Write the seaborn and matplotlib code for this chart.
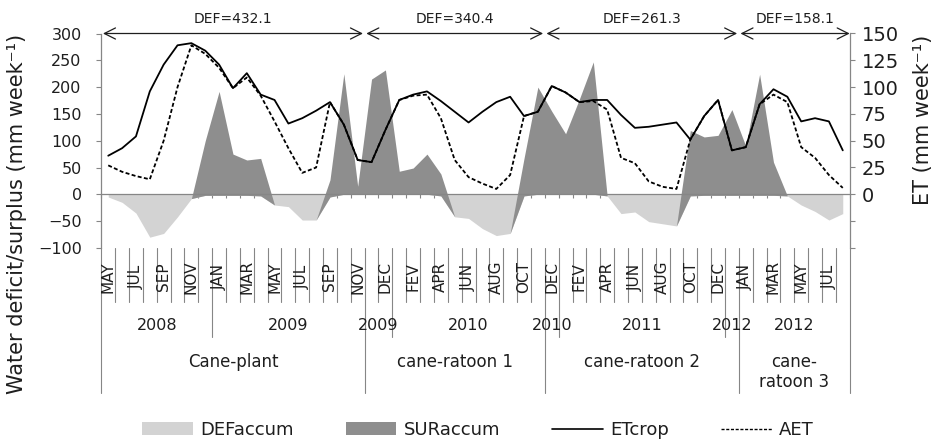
import numpy as np
import matplotlib
matplotlib.use("Agg")
import matplotlib.pyplot as plt
import matplotlib.transforms as mtransforms
from matplotlib.patches import Patch
from matplotlib.lines import Line2D
from matplotlib.ticker import FuncFormatter
import seaborn as sns

# ---- data -----------------------------------------------------------------
months = ["MAY", "JUN", "JUL", "AUG", "SEP", "OCT", "NOV", "DEC",
          "JAN", "FEV", "MAR", "APR", "MAY", "JUN", "JUL", "AUG", "SEP", "OCT", "NOV",
          "NOV", "DEC",
          "JAN", "FEV", "MAR", "APR", "MAY", "JUN", "JUL", "AUG", "SEP", "OCT", "NOV",
          "DEC",
          "JAN", "FEV", "MAR", "APR", "MAY", "JUN", "JUL", "AUG", "SEP", "OCT", "NOV", "DEC",
          "JAN",
          "JAN", "FEV", "MAR", "APR", "MAY", "JUN", "JUL", "AUG"]

year_groups = [("2008", 8), ("2009", 11), ("2009", 2), ("2010", 11),
               ("2010", 1), ("2011", 12), ("2012", 1), ("2012", 8)]
phase_groups = [("Cane-plant", 19), ("cane-ratoon 1", 13),
                ("cane-ratoon 2", 14), ("cane-\nratoon 3", 8)]
def_totals = [432.1, 340.4, 261.3, 158.1]

# accumulated water deficit (mm week-1, negative) and surplus (stacked on top)
def_accum = [-5, -15, -35, -80, -73, -42, -8, -2, -2, -2, -2, -3, -20, -23, -48, -48,
             -5, 0, 0, 0, 0, 0, 0, 0, -3, -42, -45, -64, -77, -73, -3, 0,
             0, 0, 0, 0, -3, -36, -33, -51, -55, -59, -3, -2, -2, -2, -2, -2,
             -2, -3, -20, -32, -48, -36]
sur_accum = [0, 0, 0, 0, 0, 0, 0, 102, 194, 77, 66, 70, 0, 0, 0, 0,
             32, 225, 15, 215, 232, 43, 49, 75, 41, 0, 0, 0, 0, 0, 70, 200,
             155, 113, 178, 247, 0, 0, 0, 0, 0, 0, 122, 109, 112, 160, 92, 226,
             62, 0, 0, 0, 0, 0]

# crop evapotranspiration and actual evapotranspiration (mm week-1)
et_crop = [36, 43, 54, 96, 121, 139, 141, 134, 121, 99, 113, 93, 88, 66, 71, 78,
           86, 65, 32, 30, 60, 88, 93, 96, 87, 77, 67, 77, 86, 91, 73, 77,
           101, 95, 86, 88, 88, 74, 62, 63, 65, 67, 51, 73, 88, 41, 44, 84,
           98, 91, 68, 71, 68, 41]
aet = [27, 21, 17, 14, 50, 100, 139, 131, 118, 99, 109, 92, 68, 43, 20, 25,
       86, 65, 32, 30, 60, 88, 92, 93, 71, 32, 16, 10, 5, 18, 73, 77,
       101, 95, 86, 87, 79, 34, 29, 12, 7, 5, 51, 73, 88, 41, 44, 84,
       93, 86, 44, 34, 18, 6]

# ---- style ----------------------------------------------------------------
sns.set_theme(style="white")
plt.rcParams["font.family"] = ["DejaVu Sans"]

LIGHT = "#d3d3d3"
DARK = "#8e8e8e"
GRID = "#868686"
INK = "#1e1e1e"

W, H = 938, 442
fig = plt.figure(figsize=(W / 100, H / 100), dpi=100)

px_left, px_right = 101.3, 849.7
px_top, px_bottom = 33.5, 247.9
ax = fig.add_axes([px_left / W, (H - px_bottom) / H,
                   (px_right - px_left) / W, (px_bottom - px_top) / H])
ax_h = px_bottom - px_top

n = len(months)
x = np.arange(n)
def_arr = np.array(def_accum, dtype=float)
top_arr = def_arr + np.array(sur_accum, dtype=float)

# stacked areas: deficit from zero, surplus stacked on the deficit
ax.fill_between(x, 0, def_arr, color=LIGHT, lw=0, zorder=1)
ax.fill_between(x, def_arr, top_arr, color=DARK, lw=0, zorder=1.1)

ax.set_xlim(-0.5, n - 0.5)
ax.set_ylim(-100, 300)

# ET lines on the secondary axis
ax2 = ax.twinx()
sns.lineplot(x=x, y=et_crop, ax=ax2, color="black", lw=1.3, legend=False)
sns.lineplot(x=x, y=aet, ax=ax2, color="black", lw=1.3,
             linestyle=(0, (2.2, 1.3)), legend=False)
ax2.set_ylim(-50, 150)
ax2.set_xlabel("")
ax2.set_ylabel("")

# spines
for s in ["top", "right"]:
    ax.spines[s].set_visible(False)
ax.spines["left"].set_color(GRID)
ax.spines["bottom"].set_color(GRID)
ax.spines["bottom"].set_position(("data", 0))
for s in ["top", "left", "bottom"]:
    ax2.spines[s].set_visible(False)
ax2.spines["right"].set_color(GRID)
for sp in list(ax.spines.values()) + list(ax2.spines.values()):
    sp.set_linewidth(0.9)

# ticks
ax.set_xticks(np.arange(n + 1) - 0.5)
ax.tick_params(axis="x", direction="out", length=3, width=0.8, color=GRID,
               labelbottom=False, bottom=True)
ax.set_yticks(np.arange(-100, 301, 50))
ax.tick_params(axis="y", direction="out", length=3.6, width=0.8, color=GRID,
               labelsize=11.5, labelcolor=INK, pad=10.5, left=True)
ax2.set_yticks(np.arange(-50, 151, 25))
ax2.yaxis.set_major_formatter(FuncFormatter(lambda v, p: f"{v:.0f}" if v >= 0 else ""))
ax2.tick_params(axis="y", direction="out", length=3.6, width=0.8, color=GRID,
                labelsize=14, labelcolor=INK, pad=5, right=True)

# ---- multi-level category axis ---------------------------------------------
trans = mtransforms.blended_transform_factory(ax.transData, ax.transAxes)


def ay(py):
    return (px_bottom - py) / ax_h


year_bounds, pos = set(), 0
for _, cnt in year_groups:
    pos += cnt
    year_bounds.add(pos)
phase_bounds, pos = set(), 0
for _, cnt in phase_groups:
    pos += cnt
    phase_bounds.add(pos)

for b in range(n + 1):
    if b == 0 or b in phase_bounds:
        yb = ay(393)
    elif b in year_bounds:
        yb = ay(337)
    else:
        yb = ay(302)
    ax.plot([b - 0.5, b - 0.5], [0, yb], transform=trans, color=GRID,
            lw=0.8, clip_on=False, zorder=3)

for i, m in enumerate(months):
    if i % 2 == 0:
        ax.text(i, ay(277), m, transform=trans, rotation=90, ha="center",
                va="center", fontsize=11, color=INK)

start = 0
for label, cnt in year_groups:
    ax.text(start + cnt / 2 - 0.5, ay(325.5), label, transform=trans,
            ha="center", va="center", fontsize=11.5, color=INK)
    start += cnt

start = 0
for (label, cnt), total in zip(phase_groups, def_totals):
    yp = ay(372) if "\n" in label else ay(362)
    ax.text(start + cnt / 2 - 0.5, yp, label, transform=trans, ha="center",
            va="center", fontsize=12, color=INK, linespacing=1.15)
    # deficit total for the cycle, with a span arrow on the top edge
    x0 = start - 0.5 + 0.12
    x1 = start + cnt - 0.5 - (0.12 if start + cnt < n else 0)
    ax.annotate("", xy=(x0, 300), xytext=(x1, 300), xycoords="data",
                arrowprops=dict(arrowstyle="<->,head_length=0.4,head_width=0.2",
                                lw=0.9, color=INK, shrinkA=0, shrinkB=0,
                                mutation_scale=20),
                annotation_clip=False)
    ax.text((x0 + x1) / 2, ay(18.7), f"DEF={total}", transform=trans,
            ha="center", va="center", fontsize=10, color=INK)
    start += cnt

# axis titles
fig.text(17 / W, 1 - 214 / H, "Water deficit/surplus (mm week\u207b\u00b9)",
         rotation=90, ha="center", va="center", fontsize=15, color=INK)
fig.text(923 / W, 1 - 120 / H, "ET (mm week\u207b\u00b9)",
         rotation=90, ha="center", va="center", fontsize=15, color=INK)

# legend
handles = [Patch(facecolor=LIGHT, edgecolor="none"),
           Patch(facecolor=DARK, edgecolor="none"),
           Line2D([], [], color="black", lw=1.2),
           Line2D([], [], color="black", lw=1.0, linestyle=(0, (2.2, 1.2)))]
labels = ["DEFaccum", "SURaccum", "ETcrop", "AET"]
fig.legend(handles, labels, loc="center", bbox_to_anchor=(478 / W, 12 / H),
           ncol=4, frameon=False, fontsize=13, handlelength=2.8,
           handletextpad=0.4, columnspacing=2.9, labelcolor=INK)

fig.savefig("out.png", dpi=100)
